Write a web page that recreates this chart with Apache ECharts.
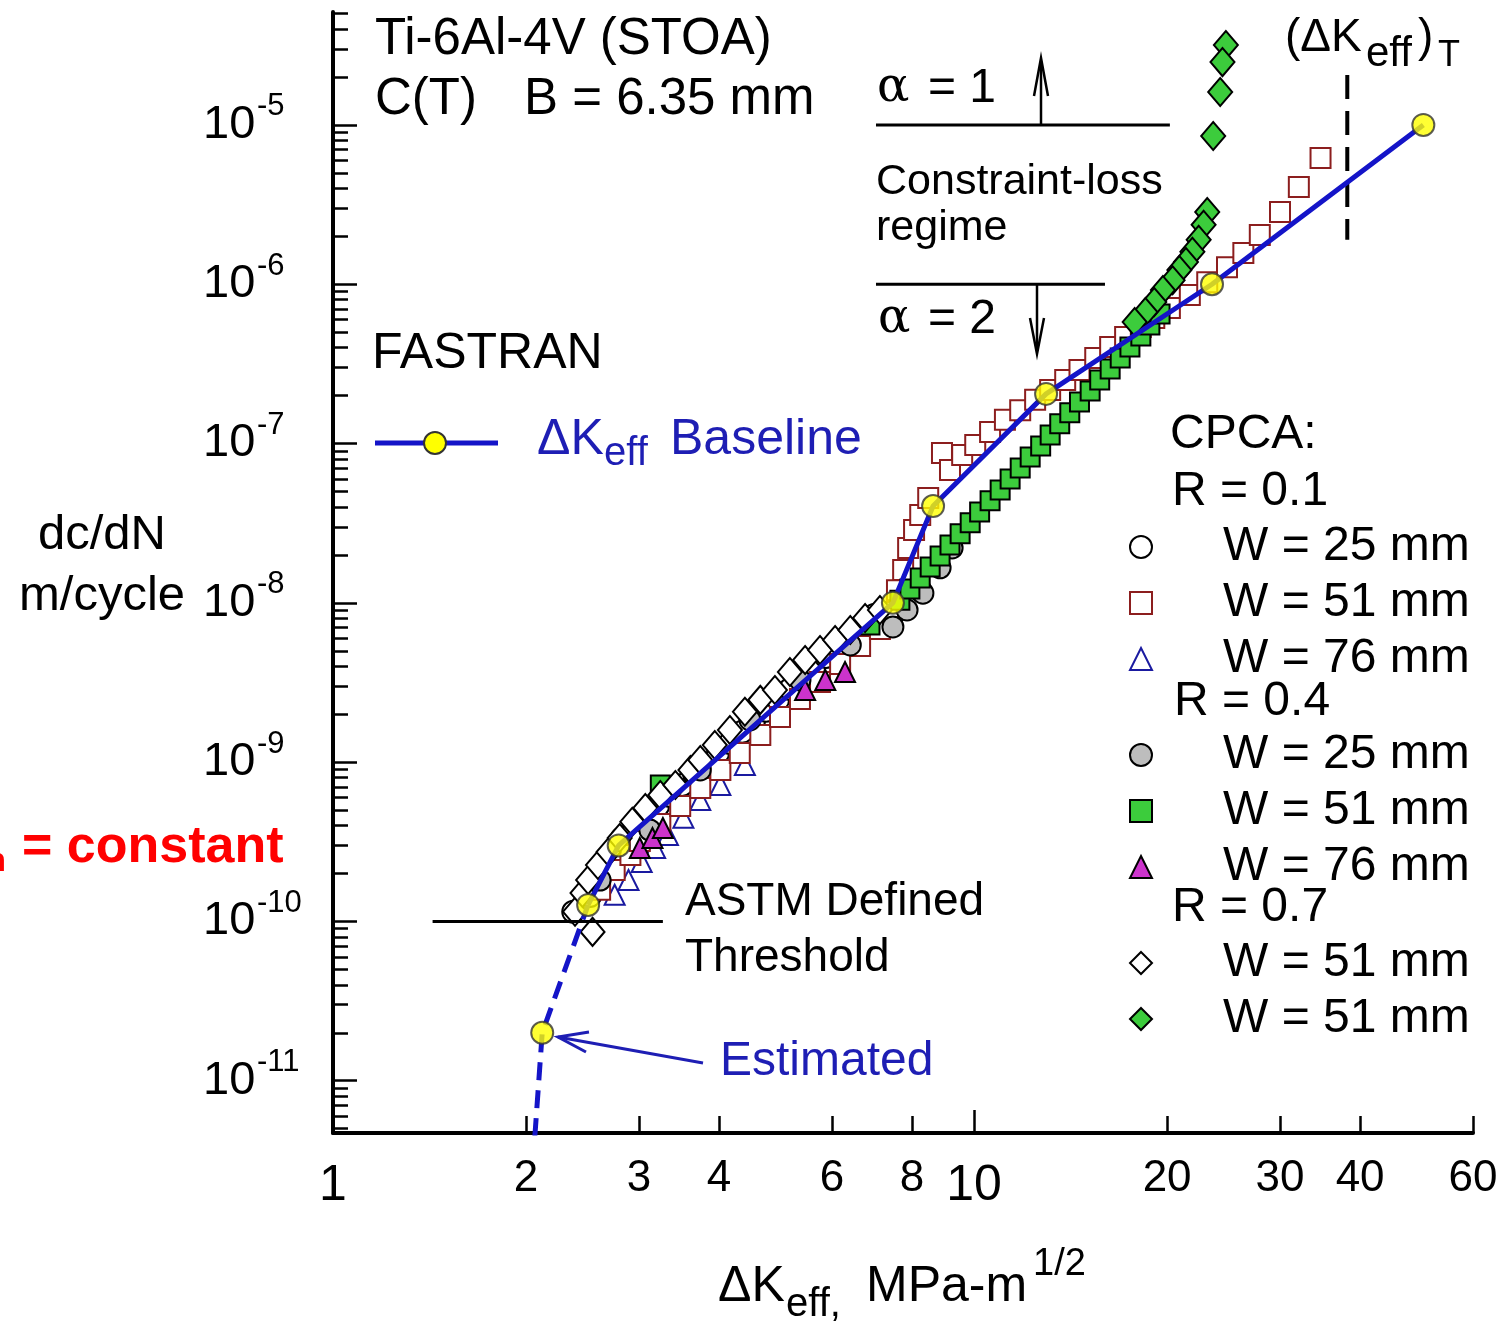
<!DOCTYPE html>
<html>
<head>
<meta charset="utf-8">
<script src="https://cdn.jsdelivr.net/npm/echarts@6/dist/echarts.min.js"></script>
<style>html,body{margin:0;padding:0;background:#fff}#chart{width:1502px;height:1321px}</style>
</head>
<body>
<div id="chart"></div>
<script>
// crack growth rate dc/dN (m/cycle) vs dKeff (MPa-m^1/2), both log scale
var FONT = "'Liberation Sans', Arial, sans-serif";
var BLUE = '#1414c8';
var TXTBLUE = '#1e1eb4';

// axis ticks
var xMajorTicks = [1, 10];
var xMinorTicks = [2, 3, 4, 6, 8, 20, 30, 40, 60];
var yDecades = [-11, -10, -9, -8, -7, -6, -5];
var yMinorDecades = [-12, -11, -10, -9, -8, -7, -6, -5];
var yMinorMult = [2, 3, 4, 5, 6, 7, 8, 9];
var xMax = 60;
var yLogMin = -11.328, yLogMax = -4.291;

// FASTRAN dKeff baseline
var baseK = [2.12, 2.5, 2.79, 7.47, 8.63, 12.95, 23.5, 50.2];
var baseRate = [2e-11, 1.27e-10, 3e-10, 1e-8, 4.05e-8, 2.05e-7, 1e-6, 1e-5];
var estK = [2.05];
var estRate = [3e-12];

// CPCA data, R = 0.1
var r01w25K = [2.37, 2.517, 2.61, 2.705, 2.824, 2.949, 3.078, 3.214, 3.356, 3.504, 3.658, 3.818, 3.987, 4.162, 4.346, 4.537, 4.737, 4.946, 5.164, 5.392, 5.629, 5.877, 6.136, 6.406, 6.689, 6.982, 7.53, 8.24];
var r01w25Rate = [1.15e-10, 1.445e-10, 1.9e-10, 2.5e-10, 3.34e-10, 3.86e-10, 4.53e-10, 5.31e-10, 6.14e-10, 7.19e-10, 8.43e-10, 9.75e-10, 1.14e-9, 1.32e-9, 1.55e-9, 1.82e-9, 2.1e-9, 2.46e-9, 2.88e-9, 3.33e-9, 3.9e-9, 4.57e-9, 5.28e-9, 6.19e-9, 7.26e-9, 8.39e-9, 8.77e-9, 1.2e-8];
var r01w51K = [2.61, 2.75, 2.91, 3.01, 3.24, 3.48, 3.74, 4.02, 4.31, 4.64, 4.98, 5.35, 5.75, 6.18, 6.64, 7.13, 7.34, 7.58, 7.75, 7.89, 8.06, 8.24, 8.48, 8.91, 9.17, 9.58, 10.04, 10.59, 11.17, 11.8, 12.45, 13.14, 13.87, 14.6, 15.45, 16.3, 17.2, 18.2, 19.1, 20.2, 21.7, 23.1, 24.8, 26.3, 27.9, 30.0, 32.1, 34.7];
var r01w51Rate = [1.58e-10, 2.1e-10, 2.61e-10, 3.2e-10, 4.09e-10, 5.31e-10, 6.89e-10, 8.93e-10, 1.14e-9, 1.48e-9, 1.92e-9, 2.49e-9, 3.18e-9, 4.13e-9, 5.36e-9, 6.86e-9, 8.77e-9, 1.2e-8, 1.61e-8, 2.21e-8, 2.87e-8, 3.56e-8, 4.55e-8, 8.73e-8, 6.82e-8, 8.48e-8, 9.8e-8, 1.18e-7, 1.41e-7, 1.62e-7, 1.88e-7, 2.17e-7, 2.51e-7, 2.9e-7, 3.44e-7, 4.04e-7, 4.67e-7, 5.4e-7, 6.14e-7, 7.1e-7, 8.57e-7, 1.03e-6, 1.28e-6, 1.57e-6, 2.04e-6, 2.84e-6, 4.08e-6, 6.21e-6];
var r01w76K = [2.75, 2.89, 3.03, 3.18, 3.33, 3.52, 3.74, 4.02, 4.39];
var r01w76Rate = [1.47e-10, 1.82e-10, 2.36e-10, 2.89e-10, 3.49e-10, 4.47e-10, 5.79e-10, 7.19e-10, 9.6e-10];

// R = 0.4
var r04w25K = [2.61, 3.12, 3.74, 4.47, 5.35, 6.41, 7.47, 7.86, 8.32, 8.85, 9.24];
var r04w25Rate = [1.82e-10, 3.75e-10, 8.93e-10, 1.84e-9, 3.28e-9, 5.44e-9, 7.06e-9, 9.02e-9, 1.15e-8, 1.66e-8, 2.21e-8];
var r04w51K = [3.24, 6.88, 7.66, 7.94, 8.24, 8.54, 8.85, 9.17, 9.51, 9.86, 10.2, 10.59, 10.98, 11.38, 11.8, 12.23, 12.7, 13.14, 13.6, 14.1, 14.6, 15.17, 15.7, 16.3, 16.9, 17.5, 18.2, 18.8, 19.5];
var r04w51Rate = [7.19e-10, 7.26e-9, 1.04e-8, 1.22e-8, 1.43e-8, 1.68e-8, 1.97e-8, 2.31e-8, 2.71e-8, 3.18e-8, 3.72e-8, 4.37e-8, 5.11e-8, 6.0e-8, 7.03e-8, 8.24e-8, 9.66e-8, 1.13e-7, 1.33e-7, 1.56e-7, 1.82e-7, 2.14e-7, 2.51e-7, 2.94e-7, 3.44e-7, 4.04e-7, 4.73e-7, 5.55e-7, 6.51e-7];
var r04w76K = [3.01, 3.15, 3.27, 5.45, 5.86, 6.29];
var r04w76Rate = [2.89e-10, 3.34e-10, 3.86e-10, 2.84e-9, 3.28e-9, 3.68e-9];

// R = 0.7
var r07aK = [2.54, 2.385, 2.45, 2.50, 2.59, 2.69, 2.80, 2.93, 3.07, 3.24, 3.42, 3.61, 3.74, 3.94, 4.16, 4.39, 4.64, 4.89, 5.16, 5.45, 5.75, 6.07, 6.41, 6.76, 7.13];
var r07aRate = [8.6e-11, 1.15e-10, 1.51e-10, 1.82e-10, 2.26e-10, 2.73e-10, 3.34e-10, 4.22e-10, 5.16e-10, 6.22e-10, 7.19e-10, 8.93e-10, 1.03e-9, 1.28e-9, 1.59e-9, 2.07e-9, 2.46e-9, 2.84e-9, 3.68e-9, 4.38e-9, 5.06e-9, 5.85e-9, 6.76e-9, 8.04e-9, 9.02e-9];
var r07bK = [24.7, 24.4, 24.2, 23.6, 23.1, 22.8, 22.4, 21.9, 21.4, 20.9, 20.4, 19.7, 19.1, 18.5, 17.8];
var r07bRate = [3.18e-5, 2.48e-5, 1.61e-5, 8.53e-6, 2.84e-6, 2.36e-6, 1.9e-6, 1.6e-6, 1.38e-6, 1.23e-6, 1.06e-6, 9.2e-7, 7.74e-7, 6.7e-7, 5.8e-7];

// reference lines
var astmK = [1.43, 3.27];
var astmRate = [1e-10, 1e-10];
var alpha1K = [7.03, 20.2];
var alpha1Rate = [1e-5, 1e-5];
var alpha2K = [7.03, 16.0];
var alpha2Rate = [1e-6, 1e-6];
var dkTK = [38.2, 38.2];
var dkTRate = [2.06e-5, 1.9e-6];

function pts(ks, rs) {
  return ks.map(function (k, i) { return [Math.log10(k), Math.log10(rs[i])]; });
}

function scat(name, ks, rs, symbol, size, fill, border, z) {
  return {
    name: name, type: 'scatter', data: pts(ks, rs),
    symbol: symbol, symbolSize: size, z: z, silent: true,
    itemStyle: { color: fill, borderColor: border, borderWidth: 2, opacity: 1 }
  };
}

function refLine(ks, rs, style) {
  return { type: 'line', data: pts(ks, rs), symbol: 'none', silent: true, z: 3, lineStyle: style };
}

function txt(x, y, s, size, color, extra) {
  var st = { text: s, fill: color || '#000', fontSize: size, fontFamily: FONT,
    align: 'left', verticalAlign: 'middle', textAlign: 'left', textVerticalAlign: 'middle' };
  if (extra) for (var k in extra) st[k] = extra[k];
  return { type: 'text', x: x, y: y, z: 100, silent: true, style: st };
}

function seg(x1, y1, x2, y2, color, w) {
  return { type: 'line', z: 100, silent: true, shape: { x1: x1, y1: y1, x2: x2, y2: y2 },
    style: { stroke: color || '#000', lineWidth: w || 3 } };
}

function head(points, color, w) {
  return { type: 'polyline', z: 100, silent: true, shape: { points: points },
    style: { stroke: color || '#000', lineWidth: w || 2.5, fill: null } };
}

var yMinorTicks = [];
yMinorDecades.forEach(function (e) {
  yMinorMult.forEach(function (m) { yMinorTicks.push(e + Math.log10(m)); });
});

var legendText = { fontSize: 48, lineHeight: 44, color: '#000', fontFamily: FONT, padding: [0, 0, 0, 66] };
function legendAt(top, names) {
  return {
    data: names, orient: 'vertical', left: 1129, top: top, padding: 0,
    itemWidth: 22, itemHeight: 22, itemGap: 8,
    selectedMode: false, textStyle: legendText,
    formatter: function (n) { return n.split('|')[1]; }
  };
}

var chart = echarts.init(document.getElementById('chart'));

var option = {
  backgroundColor: '#fff',
  animation: false,
  grid: { left: 333, top: 12, width: 1140, height: 1121 },
  xAxis: [{
    type: 'value', position: 'bottom', min: 0, max: Math.log10(xMax),
    axisLine: { lineStyle: { color: '#000', width: 4 } },
    axisTick: { inside: true, length: 23, customValues: xMajorTicks.map(Math.log10), lineStyle: { color: '#000', width: 2.5 } },
    axisLabel: { customValues: xMajorTicks.map(Math.log10), margin: 28, fontSize: 50, color: '#000', fontFamily: FONT,
      formatter: function (v) { return String(Math.round(Math.pow(10, v))); } },
    splitLine: { show: false }
  }, {
    type: 'value', position: 'bottom', offset: 0, min: 0, max: Math.log10(xMax),
    axisLine: { show: false },
    axisTick: { inside: true, length: 17, customValues: xMinorTicks.map(Math.log10), lineStyle: { color: '#000', width: 2.5 } },
    axisLabel: { customValues: xMinorTicks.map(Math.log10), margin: 24, fontSize: 44, color: '#000', fontFamily: FONT,
      formatter: function (v) { return String(Math.round(Math.pow(10, v))); } },
    splitLine: { show: false }
  }],
  yAxis: [{
    // decades: "10" part of the labels
    type: 'value', position: 'left', min: yLogMin, max: yLogMax,
    axisLine: { lineStyle: { color: '#000', width: 4 } },
    axisTick: { inside: true, length: 24, customValues: yDecades, lineStyle: { color: '#000', width: 2.5 } },
    axisLabel: {
      customValues: yDecades, align: 'left', margin: 130,
      fontSize: 47, color: '#000', fontFamily: FONT,
      formatter: function () { return '10'; }
    },
    splitLine: { show: false }
  }, {
    // minor ticks + exponent superscripts (empty 2nd line lifts the exponent)
    type: 'value', position: 'left', offset: 0, min: yLogMin, max: yLogMax,
    axisLine: { show: false },
    axisTick: { inside: true, length: 15, customValues: yMinorTicks, lineStyle: { color: '#000', width: 2.5 } },
    axisLabel: {
      customValues: yDecades, align: 'left', margin: 76, lineHeight: 36,
      fontSize: 31, color: '#000', fontFamily: FONT,
      formatter: function (v) { return Math.round(v) + '\n '; }
    },
    splitLine: { show: false }
  }],
  legend: [
    legendAt(523, ['r01w25|W = 25 mm', 'r01w51|W = 51 mm', 'r01w76|W = 76 mm']),
    legendAt(731, ['r04w25|W = 25 mm', 'r04w51|W = 51 mm', 'r04w76|W = 76 mm']),
    legendAt(939, ['r07a|W = 51 mm', 'r07b|W = 51 mm'])
  ],
  series: [
    scat('r01w25|W = 25 mm', r01w25K, r01w25Rate, 'circle', 22, '#fff', '#000', 2),
    scat('r01w76|W = 76 mm', r01w76K, r01w76Rate, 'triangle', 20, '#fff', '#1a1aa0', 2),
    scat('r01w51|W = 51 mm', r01w51K, r01w51Rate, 'rect', 20, '#fff', '#8c1e1e', 2),
    scat('r04w25|W = 25 mm', r04w25K, r04w25Rate, 'circle', 21, '#bdbdbd', '#000', 2),
    scat('r04w76|W = 76 mm', r04w76K, r04w76Rate, 'triangle', 20, '#cc33cc', '#000', 2),
    scat('r04w51|W = 51 mm', r04w51K, r04w51Rate, 'rect', 19, '#3ccc3c', '#000', 2),
    scat('r07a|W = 51 mm', r07aK, r07aRate, 'diamond', [24, 28], '#fff', '#000', 2),
    scat('r07b|W = 51 mm', r07bK, r07bRate, 'diamond', [24, 28], '#3ccc3c', '#000', 2),
    refLine(astmK, astmRate, { color: '#000', width: 3 }),
    refLine(alpha1K, alpha1Rate, { color: '#000', width: 3 }),
    refLine(alpha2K, alpha2Rate, { color: '#000', width: 3 }),
    refLine(dkTK, dkTRate, { color: '#000', width: 4, type: [24, 12] }),
    { type: 'line', name: 'baseline', data: pts(baseK.slice(1), baseRate.slice(1)), symbol: 'none', silent: true, z: 5,
      lineStyle: { color: BLUE, width: 5 } },
    { type: 'line', name: 'estimated', data: pts(estK.concat(baseK.slice(0, 2)), estRate.concat(baseRate.slice(0, 2))),
      symbol: 'none', silent: true, z: 5, clip: true, lineStyle: { color: BLUE, width: 5, type: [18, 10] } },
    { type: 'scatter', name: 'baselinePts', data: pts(baseK, baseRate), symbol: 'circle', symbolSize: 22, silent: true, z: 6,
      itemStyle: { color: '#ffff00', borderColor: '#333', borderWidth: 2 } }
  ],
  graphic: [
    txt(375, 40, 'Ti-6Al-4V (STOA)', 51),
    txt(375, 100, 'C(T)', 51),
    txt(524, 100, 'B = 6.35 mm', 51),
    txt(372, 354, 'FASTRAN', 50),
    seg(375, 443, 498, 443, BLUE, 5),
    { type: 'circle', z: 101, silent: true, shape: { cx: 435, cy: 443, r: 11 }, style: { fill: '#ffff00', stroke: '#333', lineWidth: 2 } },
    txt(537, 440, 'ΔK', 50, TXTBLUE),
    txt(604, 454, 'eff', 40, TXTBLUE),
    txt(670, 440, 'Baseline', 50, TXTBLUE),
    txt(877, 89, 'α', 48, '#000', { fontFamily: "'DejaVu Serif', serif" }),
    txt(928, 89, '= 1', 48),
    seg(1041, 125, 1041, 62, '#000', 2.5),
    head([[1034, 96], [1041, 58], [1048, 96]]),
    txt(876, 182, 'Constraint-loss', 43),
    txt(876, 228, 'regime', 43),
    txt(878, 320, 'α', 48, '#000', { fontFamily: "'DejaVu Serif', serif" }),
    txt(928, 320, '= 2', 48),
    seg(1037, 283, 1037, 350, '#000', 2.5),
    head([[1030, 318], [1037, 354], [1044, 318]]),
    txt(1285, 38, '(ΔK', 46),
    txt(1366, 54, 'eff', 42),
    txt(1418, 38, ')', 46),
    txt(1438, 56, 'T', 36),
    txt(1170, 435, 'CPCA:', 48),
    txt(1172, 492, 'R = 0.1', 48),
    txt(1174, 702, 'R = 0.4', 48),
    txt(1172, 908, 'R = 0.7', 48),
    txt(685, 902, 'ASTM Defined', 46),
    txt(685, 958, 'Threshold', 46),
    txt(720, 1062, 'Estimated', 48, TXTBLUE),
    seg(703, 1063, 558, 1037, TXTBLUE, 3),
    head([[586, 1052], [558, 1037], [589, 1032]], TXTBLUE, 3),
    txt(102, 535, 'dc/dN', 49, '#000', { align: 'center', textAlign: 'center' }),
    txt(102, 596, 'm/cycle', 49, '#000', { align: 'center', textAlign: 'center' }),
    txt(718, 1287, 'ΔK', 50),
    txt(786, 1305, 'eff,', 40),
    txt(866, 1287, 'MPa-m', 50),
    txt(1033, 1265, '1/2', 38),
    txt(6, 862, 'th', 34, '#ff0000', { align: 'right', textAlign: 'right', fontWeight: 'bold' }),
    txt(22, 848, '= constant', 52, '#ff0000', { fontWeight: 'bold' })
  ]
};

chart.setOption(option);
</script>
</body>
</html>
